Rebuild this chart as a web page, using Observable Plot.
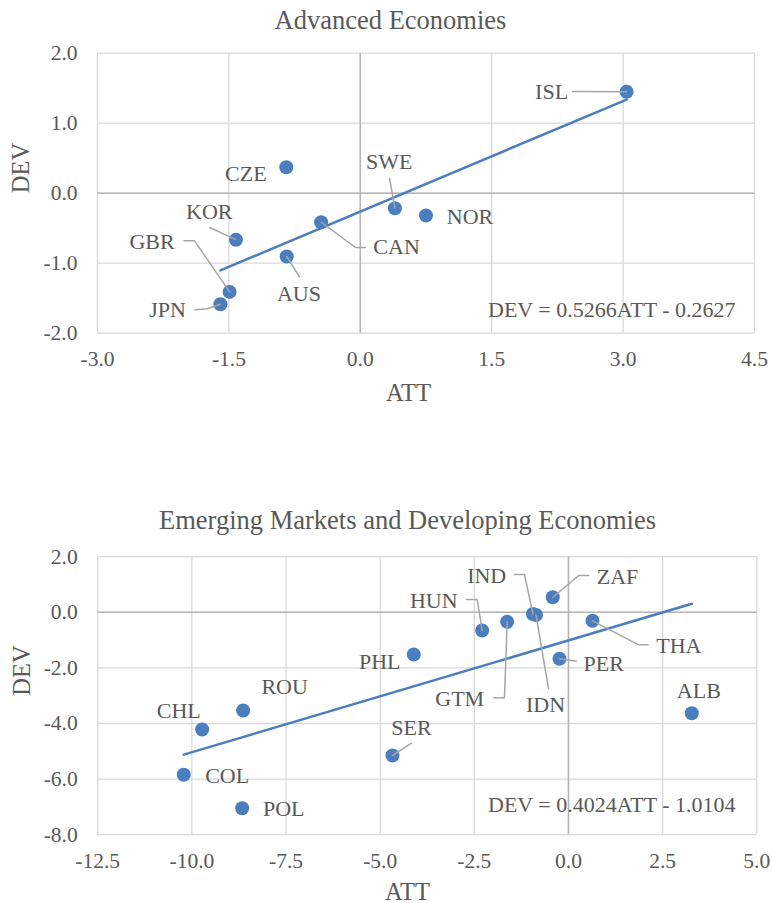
<!DOCTYPE html>
<html><head><meta charset="utf-8">
<script src="https://cdn.jsdelivr.net/npm/d3@7"></script>
<script src="https://cdn.jsdelivr.net/npm/@observablehq/plot@0.6"></script>
<style>
body{margin:0;background:#fff}
svg{display:block}
svg, svg text, svg g{font-family:"Liberation Serif","Times New Roman",serif !important;}
</style>
</head><body><div id="c"></div>
<script>
// ---- Advanced Economies ----
const advCountries = ["ISL","CZE","SWE","NOR","CAN","KOR","AUS","GBR","JPN"];
const advATT = [3.04,-0.845,0.395,0.75,-0.447,-1.42,-0.84,-1.492,-1.597];
const advDEV = [1.45,0.37,-0.214,-0.319,-0.414,-0.664,-0.904,-1.41,-1.586];
const advSlope = 0.5266, advIntercept = -0.2627;
const advEquation = "DEV = 0.5266ATT - 0.2627";
const advXTicks = [-3.0,-1.5,0.0,1.5,3.0,4.5];
const advYTicks = [-2.0,-1.0,0.0,1.0,2.0];

// ---- Emerging Markets and Developing Economies ----
const emCountries = ["CHL","ROU","COL","POL","SER","PHL","HUN","GTM","IND","IDN","ZAF","THA","PER","ALB"];
const emATT = [-9.727,-8.638,-10.215,-8.664,-4.673,-4.108,-2.292,-1.628,-0.943,-0.863,-0.417,0.637,-0.239,3.274];
const emDEV = [-4.216,-3.532,-5.845,-7.047,-5.151,-1.518,-0.655,-0.342,-0.061,-0.097,0.543,-0.306,-1.673,-3.629];
const emSlope = 0.4024, emIntercept = -1.0104;
const emEquation = "DEV = 0.4024ATT - 1.0104";
const emXTicks = [-12.5,-10.0,-7.5,-5.0,-2.5,0.0,2.5,5.0];
const emYTicks = [-8.0,-6.0,-4.0,-2.0,0.0,2.0];

// label anchors (data units) and leader elbows (data units)
const advLabelPos = {ISL:[2.184,1.453],CZE:[-1.307,0.281],SWE:[0.331,0.443],NOR:[1.253,-0.333],CAN:[0.414,-0.771],KOR:[-1.724,-0.261],AUS:[-0.701,-1.437],GBR:[-2.377,-0.70],JPN:[-2.2,-1.666]};
const advLeaders = {ISL:[[2.424,1.453]],SWE:[[0.334,0.21]],CAN:[[0.06,-0.776],[-0.054,-0.776]],KOR:[[-1.72,-0.49]],GBR:[[-2.014,-0.68],[-1.892,-0.68]],AUS:[[-0.693,-1.2]],JPN:[[-1.888,-1.666],[-1.747,-1.651]]};
const emLabelPos = {ZAF:[1.301,1.263],IND:[-2.172,1.324],IDN:[-0.611,-3.317],HUN:[-3.577,0.424],GTM:[-2.889,-3.112],THA:[2.929,-1.194],PER:[0.937,-1.853],PHL:[-5.011,-1.77],ALB:[3.46,-2.838],SER:[-4.169,-4.144],ROU:[-7.536,-2.694],CHL:[-10.348,-3.558],COL:[-9.063,-5.871],POL:[-7.56,-7.068]};
const emLeaders = {ZAF:[[0.539,1.324],[0.273,1.324]],IND:[[-1.434,1.36],[-1.168,1.36]],IDN:[[-0.531,-2.741]],HUN:[[-2.708,0.46],[-2.424,0.46]],GTM:[[-1.984,-3.076],[-1.699,-3.076]],THA:[[2.116,-1.169],[1.867,-1.169]],PER:[[0.212,-1.759]],SER:[[-4.169,-4.709]]};

const BLUE = "#4a7ebf", GRAY = "#595959";
const FONT = "'Liberation Serif', 'Times New Roman', serif";

function chart(o) {
  const pts = o.countries.map((c,i)=>({c, att:o.att[i], dev:o.dev[i]}));
  const labels = o.countries.map(c=>({c, att:o.lab[c][0], dev:o.lab[c][1]}));
  const leaders = [];
  for (const [c, elbows] of Object.entries(o.leaders)) {
    const i = o.countries.indexOf(c);
    elbows.forEach(([a,d])=>leaders.push({c, att:a, dev:d}));
    leaders.push({c, att:o.att[i], dev:o.dev[i]});
  }
  const trend = d3.extent(o.att).map(a=>({att:a, dev:o.slope*a+o.intercept}));
  const t = {fontFamily:FONT, fill:GRAY};
  return Plot.plot({
    width:772, height:o.height,
    marginLeft:o.m[0], marginRight:o.m[1], marginTop:o.m[2], marginBottom:o.m[3],
    x:{domain:d3.extent(o.xTicks), label:null},
    y:{domain:d3.extent(o.yTicks), label:null},
    style:`font-family:${FONT};background:#fff;overflow:visible;`,
    marks:[
      Plot.gridX(o.xTicks,{stroke:"#d9d9d9", strokeOpacity:1, strokeWidth:1.3}),
      Plot.gridY(o.yTicks,{stroke:"#d9d9d9", strokeOpacity:1, strokeWidth:1.3}),
      Plot.ruleX([0],{stroke:"#b5b5b5", strokeWidth:1.5}),
      Plot.ruleY([0],{stroke:"#b5b5b5", strokeWidth:1.5}),
      Plot.axisX(o.xTicks,{tickSize:0, tickPadding:18, tickFormat:d=>d.toFixed(1), fontSize:21.5, ...t, label:null}),
      Plot.axisY(o.yTicks,{tickSize:0, tickPadding:20, tickFormat:d=>d.toFixed(1), fontSize:21.5, ...t, label:null}),
      Plot.dot(pts,{x:"att", y:"dev", r:7, fill:BLUE}),
      Plot.line(trend,{x:"att", y:"dev", stroke:BLUE, strokeWidth:2.5}),
      Plot.line(leaders,{x:"att", y:"dev", z:"c", stroke:"#a6a6a6", strokeWidth:1.5}),
      Plot.text(labels,{x:"att", y:"dev", text:"c", fontSize:22, ...t, lineAnchor:"middle"}),
      Plot.text([o.equation],{frameAnchor:"bottom-right", dx:o.eq[0], dy:o.eq[1], textAnchor:"end", lineAnchor:"middle", fontSize:22, ...t}),
      Plot.text([o.title],{frameAnchor:"top", dx:o.ti[0], dy:o.ti[1], lineAnchor:"middle", fontSize:26.5, ...t}),
      Plot.text(["ATT"],{frameAnchor:"bottom", dx:o.xl[0], dy:o.xl[1], lineAnchor:"middle", fontSize:24.5, ...t}),
      Plot.text(["DEV"],{frameAnchor:"left", dx:o.yl, rotate:-90, lineAnchor:"middle", fontSize:24.5, ...t})
    ]
  });
}

const root = document.getElementById("c");
root.append(chart({
  countries:advCountries, att:advATT, dev:advDEV, lab:advLabelPos, leaders:advLeaders,
  slope:advSlope, intercept:advIntercept, equation:advEquation, title:"Advanced Economies",
  xTicks:advXTicks, yTicks:advYTicks, height:450, m:[97,18,52.7,117.3],
  eq:[-19,-23.7], ti:[-35.5,-32.3], xl:[-17.5,59.5], yl:-76
}));
root.append(chart({
  countries:emCountries, att:emATT, dev:emDEV, lab:emLabelPos, leaders:emLeaders,
  slope:emSlope, intercept:emIntercept, equation:emEquation, title:"Emerging Markets and Developing Economies",
  xTicks:emXTicks, yTicks:emYTicks, height:453, m:[97.2,15.7,106.2,68.8],
  eq:[-21.3,-30], ti:[-19.7,-35.7], xl:[-19.7,57], yl:-76
}));
</script></body></html>
